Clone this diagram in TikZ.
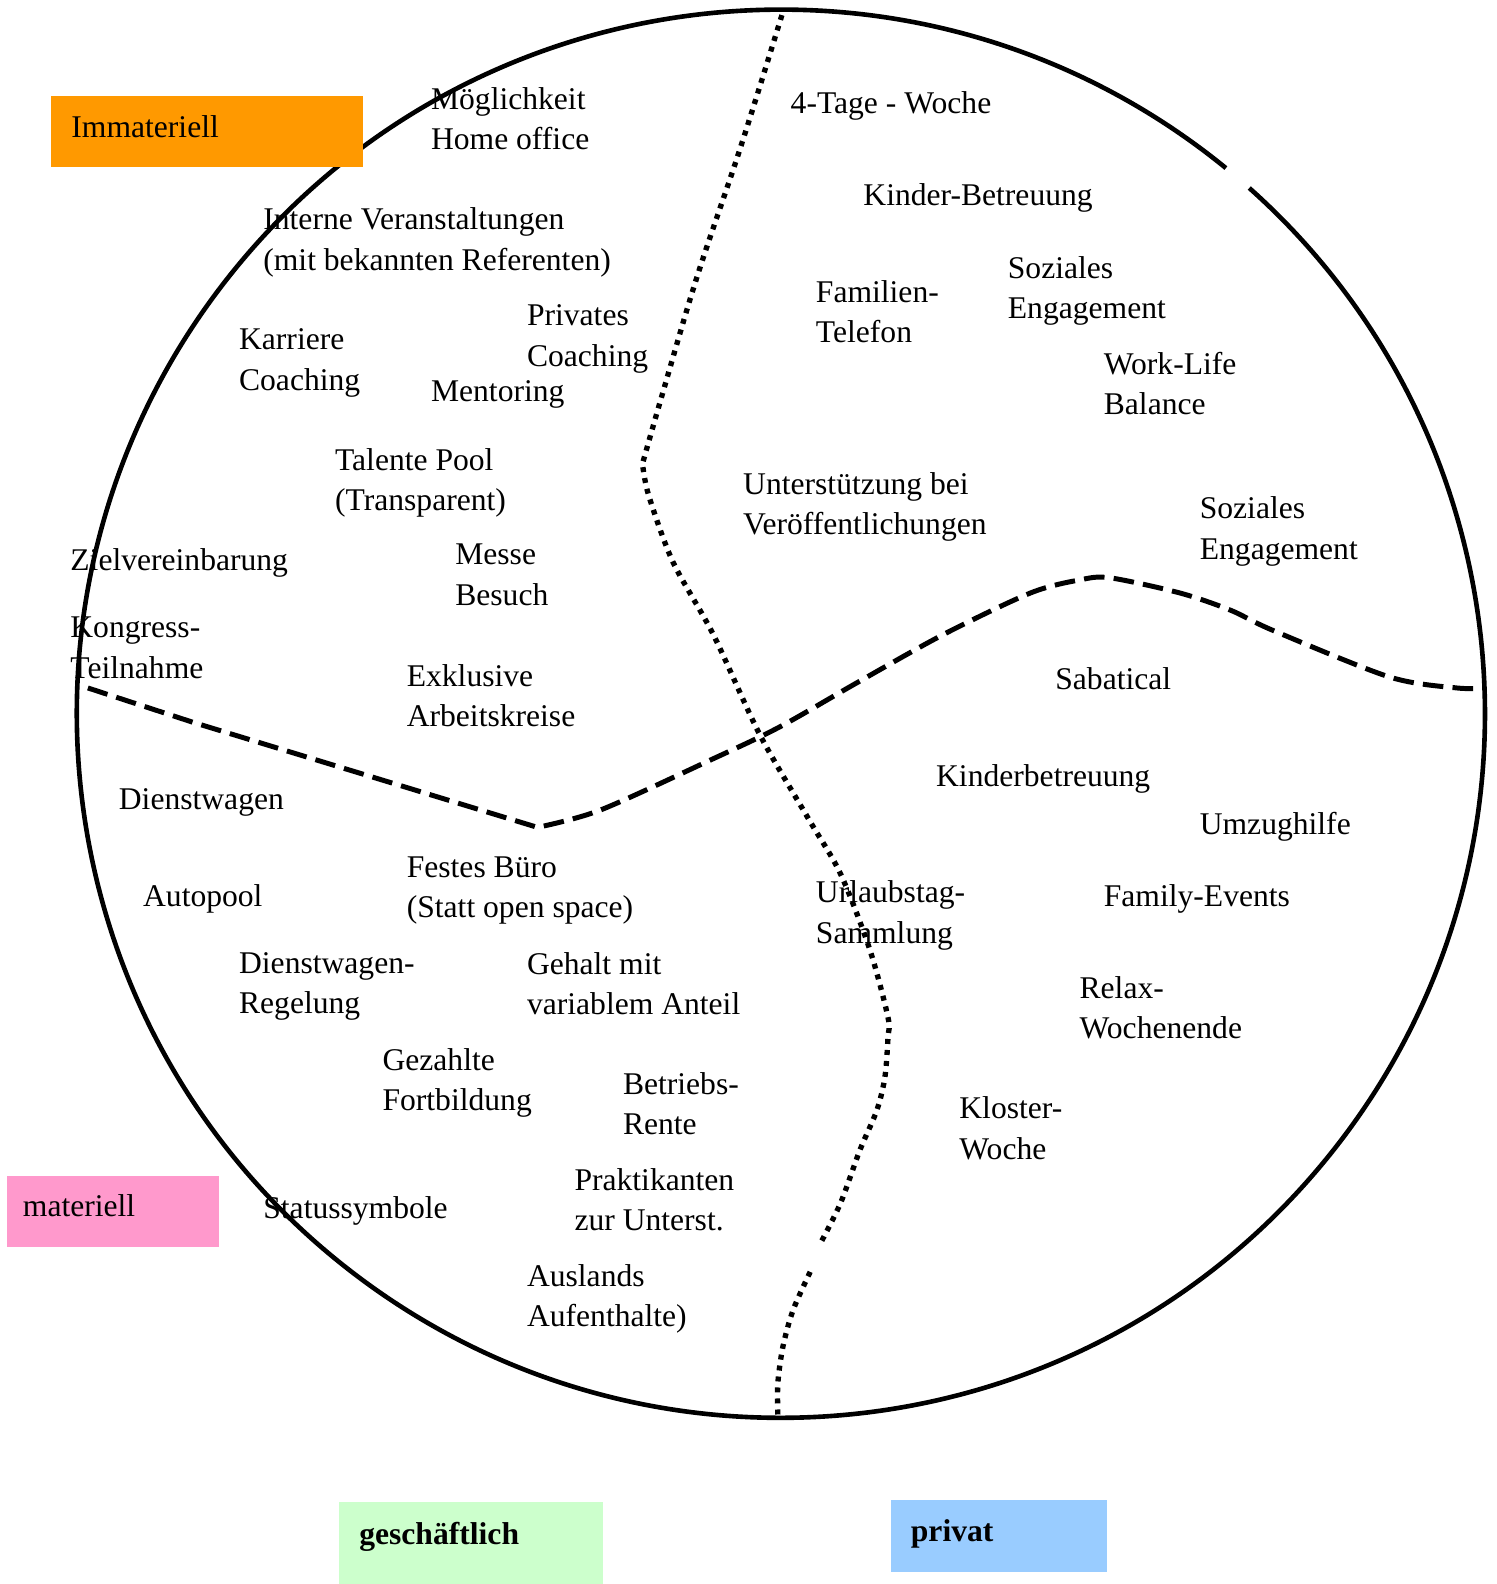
\documentclass[tikz,border=0pt]{standalone}
\usepackage{fontspec}
\setmainfont{Liberation Serif}
\definecolor{immatC}{HTML}{FF9900}
\definecolor{matC}{HTML}{FF99CC}
\definecolor{geschC}{HTML}{CCFFCC}
\definecolor{privC}{HTML}{99CCFF}

\begin{document}
\begin{tikzpicture}[
  font=\fontsize{8.9}{11.4}\selectfont,
  ring/.style={line width=1.3pt},
  splitdash/.style={line width=1.4pt, dash pattern=on 5.8pt off 2.6pt},
  splitdot/.style={line width=1.5pt, dash pattern=on 1.4pt off 1.7pt},
  item/.style={anchor=north west, inner sep=0pt, align=left, yshift=0.2mm},
  legendbox/.style={anchor=north west, inner ysep=0pt, inner xsep=2mm, align=left,
    minimum height=7.1mm, text height=6pt, text depth=2.9pt}
]
\useasboundingbox (0,0) rectangle (14.81,-15.68);

% outer circle (open at the upper right)
\coordinate (ctr) at (7.73,-7.065);
\draw[ring] (ctr) ++(50.8:6.97) arc[start angle=50.8, end angle=408.3, radius=6.97];

% split: geschaeftlich | privat
\draw[splitdot] plot[smooth, tension=0.6] coordinates {(7.74,-0.15) (7.33,-1.46) (6.90,-2.74) (6.56,-3.89) (6.36,-4.59)}
  -- plot[smooth] coordinates {(6.36,-4.59) (6.42,-4.90) (6.66,-5.56) (7.06,-6.28) (7.52,-7.27) (8.00,-8.10)
    (8.32,-8.65) (8.61,-9.40) (8.79,-10.07) (8.79,-10.27) (8.76,-10.66) (8.68,-10.99) (8.51,-11.39) (8.32,-11.91) (8.12,-12.31)};
\draw[splitdot] plot[smooth] coordinates {(8.02,-12.59) (7.85,-12.97) (7.75,-13.33) (7.70,-13.69) (7.70,-14.01)};

% split: immateriell | materiell
\draw[splitdash] (0.87,-6.81) -- (1.91,-7.15) -- (5.32,-8.19)
  -- plot[smooth] coordinates {(5.32,-8.19) (5.94,-8.02) (7.04,-7.52) (7.71,-7.20) (8.48,-6.76) (9.34,-6.28)
    (10.20,-5.87) (10.69,-5.74) (10.99,-5.72) (11.68,-5.87) (12.18,-6.04) (12.60,-6.24) (13.75,-6.70) (14.42,-6.81) (14.71,-6.81)};

% immateriell / geschaeftlich
\node[item] (moeglich) at (4.26,-0.88) {Möglichkeit\\Home office};
\node[item] (intern) at (2.60,-2.07) {Interne Veranstaltungen\\(mit bekannten Referenten)};
\node[item] (karriere) at (2.36,-3.27) {Karriere\\Coaching};
\node[item] (privcoach) at (5.21,-3.03) {Privates\\Coaching};
\node[item] (mentoring) at (4.26,-3.78) {Mentoring};
\node[item] (talente) at (3.31,-4.45) {Talente Pool\\(Transparent)};
\node[item] (ziel) at (0.69,-5.44) {Zielvereinbarung};
\node[item] (messe) at (4.50,-5.40) {Messe\\Besuch};
\node[item] (kongress) at (0.69,-6.12) {Kongress-\\Teilnahme};
\node[item] (exklusiv) at (4.02,-6.59) {Exklusive\\Arbeitskreise};

% immateriell / privat
\node[item] (viertage) at (7.82,-0.92) {4-Tage - Woche};
\node[item] (kinderbt) at (8.54,-1.83) {Kinder-Betreuung};
\node[item] (famtel) at (8.07,-2.79) {Familien-\\Telefon};
\node[item] (sozialA) at (9.97,-2.55) {Soziales\\Engagement};
\node[item] (worklife) at (10.92,-3.50) {Work-Life\\Balance};
\node[item] (unterst) at (7.35,-4.69) {Unterstützung bei\\Veröffentlichungen};
\node[item] (sozialB) at (11.87,-4.93) {Soziales\\Engagement};

% materiell / geschaeftlich
\node[item] (dienstw) at (1.17,-7.82) {Dienstwagen};
\node[item] (autopool) at (1.41,-8.77) {Autopool};
\node[item] (buero) at (4.02,-8.49) {Festes Büro\\(Statt open space)};
\node[item] (dwregel) at (2.36,-9.44) {Dienstwagen-\\Regelung};
\node[item] (gehalt) at (5.21,-9.44) {Gehalt mit\\variablem Anteil};
\node[item] (fortb) at (3.78,-10.39) {Gezahlte\\Fortbildung};
\node[item] (rente) at (6.16,-10.63) {Betriebs-\\Rente};
\node[item] (status) at (2.60,-11.86) {Statussymbole};
\node[item] (praktik) at (5.68,-11.58) {Praktikanten\\zur Unterst.};
\node[item] (ausland) at (5.21,-12.53) {Auslands\\Aufenthalte)};

% materiell / privat
\node[item] (sabat) at (10.44,-6.62) {Sabatical};
\node[item] (kinderb) at (9.26,-7.58) {Kinderbetreuung};
\node[item] (umzug) at (11.87,-8.05) {Umzughilfe};
\node[item] (urlaub) at (8.07,-8.73) {Urlaubstag-\\Sammlung};
\node[item] (family) at (10.92,-8.77) {Family-Events};
\node[item] (relax) at (10.68,-9.68) {Relax-\\Wochenende};
\node[item] (kloster) at (9.49,-10.87) {Kloster-\\Woche};

% legend boxes
\node[legendbox, fill=immatC, text width=26.9mm] (immat) at (0.50,-0.94) {Immateriell};
\node[legendbox, fill=matC, inner xsep=1.6mm, text width=17.8mm] (mat) at (0.06,-11.63) {materiell};
\node[legendbox, fill=geschC, minimum height=8.2mm, text depth=5.4pt, text width=22.1mm, font=\fontsize{8.9}{11.4}\selectfont\bfseries] (gesch) at (3.35,-14.86) {geschäftlich};
\node[legendbox, fill=privC, text width=17.4mm, font=\fontsize{8.9}{11.4}\selectfont\bfseries] (priv) at (8.81,-14.84) {privat};

\end{tikzpicture}
\end{document}
